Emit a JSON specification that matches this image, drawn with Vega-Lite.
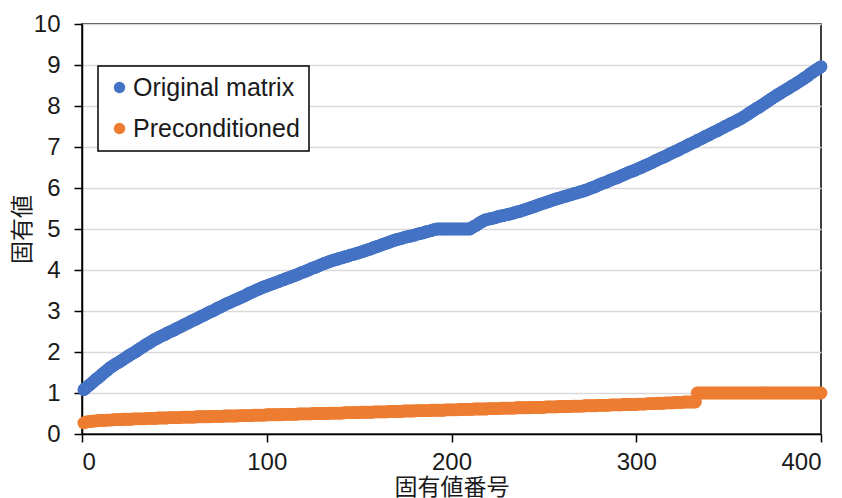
{
  "$schema": "https://vega.github.io/schema/vega-lite/v6.json",
  "width": 739,
  "height": 410,
  "autosize": {"type": "none"},
  "padding": {"left": 82, "top": 24, "right": 21, "bottom": 64},
  "background": "white",
  "config": {
    "view": {"stroke": "black", "strokeWidth": 1.5},
    "font": "Liberation Sans",
    "legend": {"strokeWidth": 1.5}
  },
  "data": {
    "values": [
      {"n":1,"a":1.08,"b":0.27},{"n":2,"a":1.12,"b":0.29},{"n":3,"a":1.16,"b":0.30},{"n":4,"a":1.19,"b":0.30},{"n":5,"a":1.23,"b":0.31},
      {"n":6,"a":1.27,"b":0.31},{"n":7,"a":1.31,"b":0.32},{"n":8,"a":1.35,"b":0.32},{"n":9,"a":1.38,"b":0.33},{"n":10,"a":1.42,"b":0.33},
      {"n":11,"a":1.46,"b":0.33},{"n":12,"a":1.50,"b":0.33},{"n":13,"a":1.53,"b":0.34},{"n":14,"a":1.57,"b":0.34},{"n":15,"a":1.61,"b":0.34},
      {"n":16,"a":1.64,"b":0.34},{"n":17,"a":1.67,"b":0.35},{"n":18,"a":1.70,"b":0.35},{"n":19,"a":1.73,"b":0.35},{"n":20,"a":1.75,"b":0.35},
      {"n":21,"a":1.78,"b":0.35},{"n":22,"a":1.81,"b":0.36},{"n":23,"a":1.84,"b":0.36},{"n":24,"a":1.87,"b":0.36},{"n":25,"a":1.90,"b":0.36},
      {"n":26,"a":1.93,"b":0.36},{"n":27,"a":1.96,"b":0.36},{"n":28,"a":1.98,"b":0.37},{"n":29,"a":2.01,"b":0.37},{"n":30,"a":2.04,"b":0.37},
      {"n":31,"a":2.07,"b":0.37},{"n":32,"a":2.10,"b":0.37},{"n":33,"a":2.13,"b":0.37},{"n":34,"a":2.16,"b":0.37},{"n":35,"a":2.19,"b":0.38},
      {"n":36,"a":2.21,"b":0.38},{"n":37,"a":2.24,"b":0.38},{"n":38,"a":2.27,"b":0.38},{"n":39,"a":2.30,"b":0.38},{"n":40,"a":2.32,"b":0.38},
      {"n":41,"a":2.34,"b":0.39},{"n":42,"a":2.37,"b":0.39},{"n":43,"a":2.39,"b":0.39},{"n":44,"a":2.41,"b":0.39},{"n":45,"a":2.43,"b":0.39},
      {"n":46,"a":2.46,"b":0.39},{"n":47,"a":2.48,"b":0.40},{"n":48,"a":2.50,"b":0.40},{"n":49,"a":2.52,"b":0.40},{"n":50,"a":2.54,"b":0.40},
      {"n":51,"a":2.57,"b":0.40},{"n":52,"a":2.59,"b":0.40},{"n":53,"a":2.61,"b":0.40},{"n":54,"a":2.63,"b":0.41},{"n":55,"a":2.66,"b":0.41},
      {"n":56,"a":2.68,"b":0.41},{"n":57,"a":2.70,"b":0.41},{"n":58,"a":2.72,"b":0.41},{"n":59,"a":2.75,"b":0.41},{"n":60,"a":2.77,"b":0.41},
      {"n":61,"a":2.79,"b":0.41},{"n":62,"a":2.81,"b":0.42},{"n":63,"a":2.83,"b":0.42},{"n":64,"a":2.86,"b":0.42},{"n":65,"a":2.88,"b":0.42},
      {"n":66,"a":2.90,"b":0.42},{"n":67,"a":2.92,"b":0.42},{"n":68,"a":2.95,"b":0.42},{"n":69,"a":2.97,"b":0.42},{"n":70,"a":2.99,"b":0.43},
      {"n":71,"a":3.01,"b":0.43},{"n":72,"a":3.03,"b":0.43},{"n":73,"a":3.06,"b":0.43},{"n":74,"a":3.08,"b":0.43},{"n":75,"a":3.10,"b":0.43},
      {"n":76,"a":3.12,"b":0.43},{"n":77,"a":3.15,"b":0.44},{"n":78,"a":3.17,"b":0.44},{"n":79,"a":3.19,"b":0.44},{"n":80,"a":3.21,"b":0.44},
      {"n":81,"a":3.23,"b":0.44},{"n":82,"a":3.25,"b":0.44},{"n":83,"a":3.27,"b":0.44},{"n":84,"a":3.29,"b":0.44},{"n":85,"a":3.31,"b":0.45},
      {"n":86,"a":3.33,"b":0.45},{"n":87,"a":3.35,"b":0.45},{"n":88,"a":3.37,"b":0.45},{"n":89,"a":3.39,"b":0.45},{"n":90,"a":3.42,"b":0.45},
      {"n":91,"a":3.44,"b":0.45},{"n":92,"a":3.46,"b":0.45},{"n":93,"a":3.48,"b":0.46},{"n":94,"a":3.50,"b":0.46},{"n":95,"a":3.52,"b":0.46},
      {"n":96,"a":3.54,"b":0.46},{"n":97,"a":3.56,"b":0.46},{"n":98,"a":3.58,"b":0.46},{"n":99,"a":3.60,"b":0.46},{"n":100,"a":3.61,"b":0.47},
      {"n":101,"a":3.63,"b":0.47},{"n":102,"a":3.65,"b":0.47},{"n":103,"a":3.66,"b":0.47},{"n":104,"a":3.68,"b":0.47},{"n":105,"a":3.70,"b":0.47},
      {"n":106,"a":3.71,"b":0.47},{"n":107,"a":3.73,"b":0.47},{"n":108,"a":3.75,"b":0.47},{"n":109,"a":3.76,"b":0.48},{"n":110,"a":3.78,"b":0.48},
      {"n":111,"a":3.80,"b":0.48},{"n":112,"a":3.81,"b":0.48},{"n":113,"a":3.83,"b":0.48},{"n":114,"a":3.85,"b":0.48},{"n":115,"a":3.86,"b":0.48},
      {"n":116,"a":3.88,"b":0.48},{"n":117,"a":3.90,"b":0.49},{"n":118,"a":3.92,"b":0.49},{"n":119,"a":3.94,"b":0.49},{"n":120,"a":3.95,"b":0.49},
      {"n":121,"a":3.97,"b":0.49},{"n":122,"a":3.99,"b":0.49},{"n":123,"a":4.01,"b":0.49},{"n":124,"a":4.03,"b":0.49},{"n":125,"a":4.05,"b":0.50},
      {"n":126,"a":4.06,"b":0.50},{"n":127,"a":4.08,"b":0.50},{"n":128,"a":4.10,"b":0.50},{"n":129,"a":4.12,"b":0.50},{"n":130,"a":4.14,"b":0.50},
      {"n":131,"a":4.16,"b":0.50},{"n":132,"a":4.17,"b":0.50},{"n":133,"a":4.19,"b":0.50},{"n":134,"a":4.21,"b":0.51},{"n":135,"a":4.22,"b":0.51},
      {"n":136,"a":4.24,"b":0.51},{"n":137,"a":4.25,"b":0.51},{"n":138,"a":4.26,"b":0.51},{"n":139,"a":4.28,"b":0.51},{"n":140,"a":4.29,"b":0.51},
      {"n":141,"a":4.30,"b":0.51},{"n":142,"a":4.32,"b":0.52},{"n":143,"a":4.33,"b":0.52},{"n":144,"a":4.34,"b":0.52},{"n":145,"a":4.36,"b":0.52},
      {"n":146,"a":4.37,"b":0.52},{"n":147,"a":4.38,"b":0.52},{"n":148,"a":4.40,"b":0.52},{"n":149,"a":4.41,"b":0.52},{"n":150,"a":4.42,"b":0.52},
      {"n":151,"a":4.44,"b":0.53},{"n":152,"a":4.45,"b":0.53},{"n":153,"a":4.47,"b":0.53},{"n":154,"a":4.48,"b":0.53},{"n":155,"a":4.50,"b":0.53},
      {"n":156,"a":4.51,"b":0.53},{"n":157,"a":4.53,"b":0.53},{"n":158,"a":4.55,"b":0.54},{"n":159,"a":4.56,"b":0.54},{"n":160,"a":4.58,"b":0.54},
      {"n":161,"a":4.59,"b":0.54},{"n":162,"a":4.61,"b":0.54},{"n":163,"a":4.63,"b":0.54},{"n":164,"a":4.64,"b":0.54},{"n":165,"a":4.66,"b":0.54},
      {"n":166,"a":4.67,"b":0.55},{"n":167,"a":4.69,"b":0.55},{"n":168,"a":4.71,"b":0.55},{"n":169,"a":4.72,"b":0.55},{"n":170,"a":4.74,"b":0.55},
      {"n":171,"a":4.75,"b":0.55},{"n":172,"a":4.76,"b":0.55},{"n":173,"a":4.77,"b":0.55},{"n":174,"a":4.79,"b":0.56},{"n":175,"a":4.80,"b":0.56},
      {"n":176,"a":4.81,"b":0.56},{"n":177,"a":4.82,"b":0.56},{"n":178,"a":4.83,"b":0.56},{"n":179,"a":4.84,"b":0.56},{"n":180,"a":4.85,"b":0.56},
      {"n":181,"a":4.87,"b":0.57},{"n":182,"a":4.88,"b":0.57},{"n":183,"a":4.89,"b":0.57},{"n":184,"a":4.90,"b":0.57},{"n":185,"a":4.91,"b":0.57},
      {"n":186,"a":4.93,"b":0.57},{"n":187,"a":4.94,"b":0.57},{"n":188,"a":4.95,"b":0.57},{"n":189,"a":4.96,"b":0.58},{"n":190,"a":4.98,"b":0.58},
      {"n":191,"a":4.99,"b":0.58},{"n":192,"a":5.00,"b":0.58},{"n":193,"a":5.00,"b":0.58},{"n":194,"a":5.00,"b":0.58},{"n":195,"a":5.00,"b":0.58},
      {"n":196,"a":5.00,"b":0.58},{"n":197,"a":5.00,"b":0.59},{"n":198,"a":5.00,"b":0.59},{"n":199,"a":5.00,"b":0.59},{"n":200,"a":5.00,"b":0.59},
      {"n":201,"a":5.00,"b":0.59},{"n":202,"a":5.00,"b":0.59},{"n":203,"a":5.00,"b":0.59},{"n":204,"a":5.00,"b":0.60},{"n":205,"a":5.00,"b":0.60},
      {"n":206,"a":5.00,"b":0.60},{"n":207,"a":5.00,"b":0.60},{"n":208,"a":5.00,"b":0.60},{"n":209,"a":5.00,"b":0.60},{"n":210,"a":5.00,"b":0.60},
      {"n":211,"a":5.03,"b":0.60},{"n":212,"a":5.06,"b":0.61},{"n":213,"a":5.08,"b":0.61},{"n":214,"a":5.11,"b":0.61},{"n":215,"a":5.14,"b":0.61},
      {"n":216,"a":5.17,"b":0.61},{"n":217,"a":5.19,"b":0.61},{"n":218,"a":5.22,"b":0.61},{"n":219,"a":5.23,"b":0.61},{"n":220,"a":5.24,"b":0.62},
      {"n":221,"a":5.25,"b":0.62},{"n":222,"a":5.26,"b":0.62},{"n":223,"a":5.27,"b":0.62},{"n":224,"a":5.28,"b":0.62},{"n":225,"a":5.30,"b":0.62},
      {"n":226,"a":5.31,"b":0.62},{"n":227,"a":5.32,"b":0.63},{"n":228,"a":5.33,"b":0.63},{"n":229,"a":5.34,"b":0.63},{"n":230,"a":5.35,"b":0.63},
      {"n":231,"a":5.36,"b":0.63},{"n":232,"a":5.37,"b":0.63},{"n":233,"a":5.38,"b":0.63},{"n":234,"a":5.40,"b":0.63},{"n":235,"a":5.41,"b":0.64},
      {"n":236,"a":5.42,"b":0.64},{"n":237,"a":5.43,"b":0.64},{"n":238,"a":5.45,"b":0.64},{"n":239,"a":5.46,"b":0.64},{"n":240,"a":5.48,"b":0.64},
      {"n":241,"a":5.49,"b":0.64},{"n":242,"a":5.51,"b":0.64},{"n":243,"a":5.52,"b":0.65},{"n":244,"a":5.54,"b":0.65},{"n":245,"a":5.55,"b":0.65},
      {"n":246,"a":5.57,"b":0.65},{"n":247,"a":5.59,"b":0.65},{"n":248,"a":5.60,"b":0.65},{"n":249,"a":5.62,"b":0.65},{"n":250,"a":5.63,"b":0.65},
      {"n":251,"a":5.65,"b":0.66},{"n":252,"a":5.66,"b":0.66},{"n":253,"a":5.68,"b":0.66},{"n":254,"a":5.69,"b":0.66},{"n":255,"a":5.71,"b":0.66},
      {"n":256,"a":5.72,"b":0.66},{"n":257,"a":5.74,"b":0.66},{"n":258,"a":5.75,"b":0.67},{"n":259,"a":5.76,"b":0.67},{"n":260,"a":5.78,"b":0.67},
      {"n":261,"a":5.79,"b":0.67},{"n":262,"a":5.80,"b":0.67},{"n":263,"a":5.82,"b":0.67},{"n":264,"a":5.83,"b":0.67},{"n":265,"a":5.84,"b":0.68},
      {"n":266,"a":5.86,"b":0.68},{"n":267,"a":5.87,"b":0.68},{"n":268,"a":5.88,"b":0.68},{"n":269,"a":5.90,"b":0.68},{"n":270,"a":5.91,"b":0.68},
      {"n":271,"a":5.92,"b":0.68},{"n":272,"a":5.94,"b":0.69},{"n":273,"a":5.95,"b":0.69},{"n":274,"a":5.97,"b":0.69},{"n":275,"a":5.99,"b":0.69},
      {"n":276,"a":6.01,"b":0.69},{"n":277,"a":6.02,"b":0.69},{"n":278,"a":6.04,"b":0.69},{"n":279,"a":6.06,"b":0.70},{"n":280,"a":6.08,"b":0.70},
      {"n":281,"a":6.10,"b":0.70},{"n":282,"a":6.12,"b":0.70},{"n":283,"a":6.13,"b":0.70},{"n":284,"a":6.15,"b":0.70},{"n":285,"a":6.17,"b":0.70},
      {"n":286,"a":6.19,"b":0.71},{"n":287,"a":6.21,"b":0.71},{"n":288,"a":6.23,"b":0.71},{"n":289,"a":6.24,"b":0.71},{"n":290,"a":6.26,"b":0.71},
      {"n":291,"a":6.28,"b":0.71},{"n":292,"a":6.30,"b":0.71},{"n":293,"a":6.32,"b":0.72},{"n":294,"a":6.34,"b":0.72},{"n":295,"a":6.36,"b":0.72},
      {"n":296,"a":6.38,"b":0.72},{"n":297,"a":6.40,"b":0.72},{"n":298,"a":6.41,"b":0.72},{"n":299,"a":6.43,"b":0.72},{"n":300,"a":6.45,"b":0.72},
      {"n":301,"a":6.47,"b":0.73},{"n":302,"a":6.49,"b":0.73},{"n":303,"a":6.51,"b":0.73},{"n":304,"a":6.53,"b":0.73},{"n":305,"a":6.55,"b":0.73},
      {"n":306,"a":6.57,"b":0.74},{"n":307,"a":6.59,"b":0.74},{"n":308,"a":6.61,"b":0.74},{"n":309,"a":6.63,"b":0.74},{"n":310,"a":6.66,"b":0.74},
      {"n":311,"a":6.68,"b":0.75},{"n":312,"a":6.70,"b":0.75},{"n":313,"a":6.72,"b":0.75},{"n":314,"a":6.74,"b":0.75},{"n":315,"a":6.76,"b":0.75},
      {"n":316,"a":6.78,"b":0.76},{"n":317,"a":6.80,"b":0.76},{"n":318,"a":6.83,"b":0.76},{"n":319,"a":6.85,"b":0.76},{"n":320,"a":6.87,"b":0.76},
      {"n":321,"a":6.89,"b":0.77},{"n":322,"a":6.91,"b":0.77},{"n":323,"a":6.93,"b":0.77},{"n":324,"a":6.96,"b":0.77},{"n":325,"a":6.98,"b":0.77},
      {"n":326,"a":7.00,"b":0.78},{"n":327,"a":7.02,"b":0.78},{"n":328,"a":7.05,"b":0.78},{"n":329,"a":7.07,"b":0.78},{"n":330,"a":7.09,"b":0.78},
      {"n":331,"a":7.11,"b":0.78},{"n":332,"a":7.13,"b":0.78},{"n":333,"a":7.16,"b":1.00},{"n":334,"a":7.18,"b":1.00},{"n":335,"a":7.20,"b":1.00},
      {"n":336,"a":7.22,"b":1.00},{"n":337,"a":7.25,"b":1.00},{"n":338,"a":7.27,"b":1.00},{"n":339,"a":7.29,"b":1.00},{"n":340,"a":7.31,"b":1.00},
      {"n":341,"a":7.34,"b":1.00},{"n":342,"a":7.36,"b":1.00},{"n":343,"a":7.38,"b":1.00},{"n":344,"a":7.40,"b":1.00},{"n":345,"a":7.43,"b":1.00},
      {"n":346,"a":7.45,"b":1.00},{"n":347,"a":7.47,"b":1.00},{"n":348,"a":7.50,"b":1.00},{"n":349,"a":7.52,"b":1.00},{"n":350,"a":7.54,"b":1.00},
      {"n":351,"a":7.57,"b":1.00},{"n":352,"a":7.59,"b":1.00},{"n":353,"a":7.61,"b":1.00},{"n":354,"a":7.63,"b":1.00},{"n":355,"a":7.66,"b":1.00},
      {"n":356,"a":7.68,"b":1.00},{"n":357,"a":7.70,"b":1.00},{"n":358,"a":7.73,"b":1.00},{"n":359,"a":7.76,"b":1.00},{"n":360,"a":7.79,"b":1.00},
      {"n":361,"a":7.82,"b":1.00},{"n":362,"a":7.85,"b":1.00},{"n":363,"a":7.88,"b":1.00},{"n":364,"a":7.91,"b":1.00},{"n":365,"a":7.94,"b":1.00},
      {"n":366,"a":7.96,"b":1.00},{"n":367,"a":7.99,"b":1.00},{"n":368,"a":8.02,"b":1.00},{"n":369,"a":8.05,"b":1.00},{"n":370,"a":8.08,"b":1.00},
      {"n":371,"a":8.11,"b":1.00},{"n":372,"a":8.14,"b":1.00},{"n":373,"a":8.17,"b":1.00},{"n":374,"a":8.20,"b":1.00},{"n":375,"a":8.23,"b":1.00},
      {"n":376,"a":8.26,"b":1.00},{"n":377,"a":8.29,"b":1.00},{"n":378,"a":8.31,"b":1.00},{"n":379,"a":8.34,"b":1.00},{"n":380,"a":8.37,"b":1.00},
      {"n":381,"a":8.40,"b":1.00},{"n":382,"a":8.42,"b":1.00},{"n":383,"a":8.45,"b":1.00},{"n":384,"a":8.48,"b":1.00},{"n":385,"a":8.51,"b":1.00},
      {"n":386,"a":8.53,"b":1.00},{"n":387,"a":8.56,"b":1.00},{"n":388,"a":8.59,"b":1.00},{"n":389,"a":8.62,"b":1.00},{"n":390,"a":8.65,"b":1.00},
      {"n":391,"a":8.68,"b":1.00},{"n":392,"a":8.71,"b":1.00},{"n":393,"a":8.74,"b":1.00},{"n":394,"a":8.78,"b":1.00},{"n":395,"a":8.81,"b":1.00},
      {"n":396,"a":8.84,"b":1.00},{"n":397,"a":8.87,"b":1.00},{"n":398,"a":8.90,"b":1.00},{"n":399,"a":8.93,"b":1.00},{"n":400,"a":8.96,"b":1.00}
    ]
  },
  "transform": [{"fold": ["a", "b"], "as": ["series", "value"]}],
  "mark": {"type": "circle", "size": 165, "opacity": 1},
  "encoding": {
    "x": {
      "field": "n",
      "type": "quantitative",
      "scale": {"domain": [0, 400], "nice": false},
      "axis": {
        "values": [0, 100, 200, 300, 400],
        "grid": false,
        "title": "固有値番号",
        "titleFont": "Noto Sans CJK JP",
        "titleFontSize": 23,
        "titleFontWeight": "normal",
        "titleColor": "#1a1a1a",
        "titleBaseline": "middle",
        "titleY": 53,
        "labelFont": "Liberation Sans",
        "labelFontSize": 24,
        "labelColor": "#1a1a1a",
        "labelPadding": 8,
        "domainColor": "black",
        "domainWidth": 1.5,
        "tickColor": "black",
        "tickWidth": 1.5,
        "tickSize": 8
      }
    },
    "y": {
      "field": "value",
      "type": "quantitative",
      "scale": {"domain": [0, 10], "nice": false},
      "axis": {
        "values": [0, 1, 2, 3, 4, 5, 6, 7, 8, 9, 10],
        "grid": true,
        "gridColor": "#d9d9d9",
        "gridWidth": 1.5,
        "title": "固有値",
        "titleFont": "Noto Sans CJK JP",
        "titleFontSize": 23,
        "titleFontWeight": "normal",
        "titleColor": "#1a1a1a",
        "titleAngle": -90,
        "titleAlign": "center",
        "titleBaseline": "middle",
        "titleX": -60,
        "titleY": 205,
        "labelFont": "Liberation Sans",
        "labelFontSize": 24,
        "labelColor": "#1a1a1a",
        "labelPadding": 14,
        "domainColor": "black",
        "domainWidth": 1.5,
        "tickColor": "black",
        "tickWidth": 1.5,
        "tickSize": 8
      }
    },
    "color": {
      "field": "series",
      "type": "nominal",
      "scale": {"domain": ["a", "b"], "range": ["#4472C4", "#ED7D31"]},
      "legend": {
        "title": null,
        "orient": "none",
        "legendX": 16,
        "legendY": 42,
        "padding": 9,
        "strokeColor": "black",
        "fillColor": "white",
        "symbolType": "circle",
        "symbolSize": 130,
        "symbolStrokeWidth": 0,
        "symbolOpacity": 1,
        "labelFont": "Liberation Sans",
        "labelFontSize": 25,
        "labelLimit": 400,
        "labelColor": "#1a1a1a",
        "labelOffset": 1,
        "rowPadding": 15,
        "labelExpr": "datum.value == 'a' ? 'Original matrix' : 'Preconditioned'"
      }
    }
  }
}
